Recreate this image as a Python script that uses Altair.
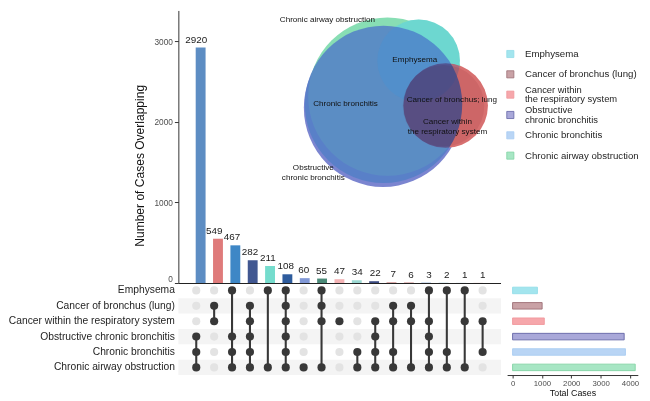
import altair as alt
import pandas as pd

# ---------------- data ----------------
set_names = [
    "Emphysema",
    "Cancer of bronchus (lung)",
    "Cancer within the respiratory system",
    "Obstructive chronic bronchitis",
    "Chronic bronchitis",
    "Chronic airway obstruction",
]
legend_labels = [
    "Emphysema",
    "Cancer of bronchus (lung)",
    "Cancer within\nthe respiratory system",
    "Obstructive\nchronic bronchitis",
    "Chronic bronchitis",
    "Chronic airway obstruction",
]
intersection_counts = [2920, 549, 467, 282, 211, 108, 60, 55, 47, 34, 22, 7, 6, 3, 2, 1, 1]
intersection_members = [
    [3, 4, 5], [1, 2], [0, 3, 4, 5], [1, 2, 3, 4, 5], [0, 5], [0, 1, 2, 3, 4, 5],
    [5], [0, 1, 2, 5], [2], [4, 5], [2, 3, 4, 5], [1, 2, 4, 5], [1, 2, 5],
    [0, 2, 3, 4, 5], [0, 4, 5], [0, 2, 5], [2, 4],
]
intersection_colors = [
    "#5d8dc3", "#df7b7b", "#3e87c6", "#415791", "#75dccd", "#2e5c9d", "#8198d6",
    "#4b8a78", "#f4b3b5", "#9ad7d1", "#3b4b82", "#c06a6a", "#c77c7c", "#4a7fc0",
    "#6ab0c8", "#7da3c5", "#d88e8e",
]
set_totals = [847, 1007, 1081, 3802, 3846, 4178]
set_fills = ["#a3e5ee", "#c9a2a6", "#f6a7ab", "#a9a8d9", "#b9d5f5", "#a7e6c4"]
set_strokes = ["#93dde8", "#9c6f75", "#f0979c", "#6364a6", "#a9ccf2", "#82d3a4"]

# Venn (eulerr-like) circles, in reference-picture units, drawn in this order
venn_names = [
    "Obstructive chronic bronchitis", "Chronic airway obstruction", "Emphysema",
    "Cancer within the respiratory system", "Chronic bronchitis", "Emphysema",
]
venn_cx = [384.5, 389.0, 421.0, 448.7, 385.0, 421.0]
venn_cy = [100.5, 89.0, 52.0, 98.3, 97.0, 52.0]
venn_r = [81.5, 81.5, 42.5, 43.5, 81.0, 42.5]
venn_fill = ["#7b85d0", "#88deb4", "#7ef0cf", "#ffb396", "#537fc7", "#3a8ad2"]
venn_opacity = [1.0, 1.0, 1.0, 1.0, 0.85, 0.25]
# circles blended by multiplication on top
cancer_names = ["Cancer within the respiratory system", "Cancer of bronchus (lung)"]
cancer_cx = [448.7, 446.5]
cancer_cy = [98.3, 98.5]
cancer_r = [43.5, 42.0]
cancer_fill = ["#d7a0be", "#f4e8ea"]

venn_label_text = [
    "Chronic airway obstruction", "Emphysema", "Chronic bronchitis",
    "Cancer of bronchus; lung", "Cancer within\nthe respiratory system",
    "Obstructive\nchronic bronchitis",
]
venn_label_x = [327.5, 417.0, 346.0, 455.0, 450.5, 313.0]
venn_label_y = [10.0, 51.0, 96.7, 92.7, 115.0, 163.3]

# ---------------- layout ----------------
W, H = 642, 393
KX, KY = W / 650.0, H / 401.0
K = (KX + KY) / 2


def fx(X):
    return X * KX


def fy(Y):
    return Y * KY


FONT = "Liberation Sans"

# ---------------- tables ----------------
bars_df = pd.DataFrame({
    "col": list(range(len(intersection_counts))),
    "count": intersection_counts,
    "color": intersection_colors,
    "label": [str(c) for c in intersection_counts],
})

dot_rows = []
rule_rows = []
for c, mem in enumerate(intersection_members):
    lo, hi = min(mem), max(mem)
    for r, name in enumerate(set_names):
        active = r in mem
        if not active and lo < r < hi:
            continue
        dot_rows.append({"col": c, "set": name, "dcolor": "#383838" if active else "#e3e3e3"})
    if lo != hi:
        rule_rows.append({"col": c, "top": set_names[lo], "bottom": set_names[hi]})
dots_df = pd.DataFrame(dot_rows)
rules_df = pd.DataFrame(rule_rows)

stripes_df = pd.DataFrame({"set": [set_names[i] for i in (1, 3, 5)]})

totals_df = pd.DataFrame({
    "set": set_names, "total": set_totals, "fill": set_fills, "stroke": set_strokes,
    "legend": legend_labels,
    "lines": [lab.count("\n") + 1 for lab in legend_labels],
})

venn_df = pd.DataFrame({
    "name": venn_names, "cx": venn_cx, "cy": venn_cy, "r": venn_r,
    "fill": venn_fill, "op": venn_opacity, "order": list(range(len(venn_names))),
})
cancer_df = pd.DataFrame({
    "name": cancer_names, "cx": cancer_cx, "cy": cancer_cy, "r": cancer_r, "fill": cancer_fill,
})
venn_lab_df = pd.DataFrame({"text": venn_label_text, "x": venn_label_x, "y": venn_label_y})


# ---------------- scales ----------------
def xs_col():
    return alt.Scale(domain=[-1, 17], range=[fx(174.65), fx(504.95)], nice=False, zero=False)


def ys_count():
    return alt.Scale(domain=[0, 3380], range=[fy(281.6), 0], nice=False, zero=True)


def ys_row_band():
    return alt.Scale(type="band", domain=set_names, range=[fy(281.35), fy(376.75)],
                     paddingInner=0, paddingOuter=0)


def ys_row_point():
    return alt.Scale(type="point", domain=set_names, range=[fy(289.3), fy(368.8)], padding=0)


def ys_legend():
    return alt.Scale(type="point", domain=set_names, range=[fy(45), fy(150)], padding=0)


def xs_venn():
    return alt.Scale(domain=[0, 650], range=[0, W], nice=False, zero=False)


def ys_venn():
    return alt.Scale(domain=[0, 401], range=[0, H], nice=False, zero=False)


def size_venn():
    return alt.Scale(type="pow", exponent=2, domain=[0, 100], range=[0, (200 * K) ** 2])


# ---------------- layers ----------------
stripes = alt.Chart(stripes_df).mark_rect(color="#f4f4f4").encode(
    x=alt.value(fx(174.65)),
    x2=alt.value(fx(505.5)),
    y=alt.Y("set:N", scale=ys_row_band(),
            axis=alt.Axis(orient="left", offset=-fx(174.65), domain=False, ticks=False,
                          labelPadding=4, labelFontSize=10.4, labelColor="#1e1e1e",
                          labelLimit=400, title=None, grid=False, labelFont=FONT)),
)

venn_circles = alt.Chart(venn_df).mark_circle().encode(
    x=alt.X("cx:Q", scale=xs_venn(), axis=None),
    y=alt.Y("cy:Q", scale=ys_venn(), axis=None),
    size=alt.Size("r:Q", scale=size_venn(), legend=None),
    color=alt.Color("fill:N", scale=None),
    opacity=alt.Opacity("op:Q", scale=None),
    order=alt.Order("order:Q"),
)

cancer_circles = alt.Chart(cancer_df).mark_circle(opacity=1, blend="multiply").encode(
    x=alt.X("cx:Q", scale=xs_venn(), axis=None),
    y=alt.Y("cy:Q", scale=ys_venn(), axis=None),
    size=alt.Size("r:Q", scale=size_venn(), legend=None),
    color=alt.Color("fill:N", scale=None),
)

venn_labels = alt.Chart(venn_lab_df).mark_text(
    fontSize=8.2, color="#111111", lineBreak="\n", lineHeight=10, font=FONT
).encode(
    x=alt.X("x:Q", scale=xs_venn(), axis=None),
    y=alt.Y("y:Q", scale=ys_venn(), axis=None),
    text="text:N",
)

bars = alt.Chart(bars_df).mark_bar(size=10, orient="vertical").encode(
    x=alt.X("col:Q", scale=xs_col(),
            axis=alt.Axis(orient="bottom", offset=fy(281.6) - H, labels=False, ticks=False,
                          grid=False, title=None, domainColor="#222222", domainWidth=1.1)),
    y=alt.Y("count:Q", scale=ys_count(),
            axis=alt.Axis(orient="left", offset=-fx(174.65), values=[0, 1000, 2000, 3000],
                          format="d", grid=False, tickSize=4, tickColor="#333333",
                          domainColor="#333333", labelFontSize=8.4, labelColor="#4d4d4d",
                          labelPadding=2, labelFont=FONT, labelFlush=True,
                          title="Number of Cases Overlapping", titleFontSize=12.2,
                          titleFontWeight="normal", titleColor="#111111", titleFont=FONT,
                          titleX=fx(135) - fx(174.65), titleY=fy(160), titleAngle=270,
                          titleBaseline="middle", titleAlign="center")),
    color=alt.Color("color:N", scale=None),
)

bar_labels = alt.Chart(bars_df).mark_text(
    baseline="bottom", dy=-3, fontSize=10, color="#1a1a1a", font=FONT
).encode(
    x=alt.X("col:Q", scale=xs_col(), axis=None),
    y=alt.Y("count:Q", scale=ys_count(), axis=None),
    text="label:N",
)

rules = alt.Chart(rules_df).mark_rule(strokeWidth=2.1, color="#383838").encode(
    x=alt.X("col:Q", scale=xs_col(), axis=None),
    y=alt.Y("top:N", scale=ys_row_point(), axis=None),
    y2="bottom:N",
)

dots = alt.Chart(dots_df).mark_circle(size=68, opacity=1).encode(
    x=alt.X("col:Q", scale=xs_col(), axis=None),
    y=alt.Y("set:N", scale=ys_row_point(), axis=None),
    color=alt.Color("dcolor:N", scale=None),
)

totals = alt.Chart(totals_df).mark_bar(size=6.6, orient="horizontal", strokeWidth=0.9).encode(
    x=alt.X("total:Q",
            scale=alt.Scale(domain=[-186, 4266], range=[fx(511.7), fx(645.7)], nice=False, zero=False),
            axis=alt.Axis(orient="bottom", offset=fy(376.7) - H, values=[0, 1000, 2000, 3000, 4000],
                          format="d", grid=False, tickSize=3, tickColor="#333333",
                          domainColor="#333333", labelFontSize=7.9, labelColor="#4d4d4d",
                          labelPadding=2, labelFont=FONT, title="Total Cases", titleFontSize=9,
                          titleFontWeight="normal", titleColor="#111111", titlePadding=1,
                          titleFont=FONT)),
    y=alt.Y("set:N", scale=ys_row_point(), axis=None),
    fill=alt.Fill("fill:N", scale=None),
    stroke=alt.Stroke("stroke:N", scale=None),
)

legend_sw = alt.Chart(totals_df).mark_square(size=52, filled=True, strokeWidth=0.8, opacity=1).encode(
    x=alt.value(fx(515)),
    y=alt.Y("set:N", scale=ys_legend(), axis=None),
    fill=alt.Fill("fill:N", scale=None),
    stroke=alt.Stroke("stroke:N", scale=None),
)

legend_tx1 = alt.Chart(totals_df).transform_filter("datum.lines == 1").mark_text(
    align="left", baseline="middle", fontSize=9.8, color="#1e1e1e", font=FONT
).encode(
    x=alt.value(fx(530)),
    y=alt.Y("set:N", scale=ys_legend(), axis=None),
    text="legend:N",
)

legend_tx2 = alt.Chart(totals_df).transform_filter("datum.lines == 2").mark_text(
    align="left", baseline="middle", fontSize=9.5, lineBreak="\n", lineHeight=9.6,
    dy=-4.8, color="#1e1e1e", font=FONT
).encode(
    x=alt.value(fx(530)),
    y=alt.Y("set:N", scale=ys_legend(), axis=None),
    text="legend:N",
)

chart = alt.layer(
    stripes, venn_circles, cancer_circles, venn_labels, bars, bar_labels,
    rules, dots, totals, legend_sw, legend_tx1, legend_tx2,
).resolve_scale(
    x="independent", y="independent", color="independent", size="independent",
    fill="independent", stroke="independent", opacity="independent",
).resolve_axis(
    x="independent", y="independent",
).properties(
    width=W, height=H, autosize=alt.AutoSizeParams(type="none"), padding=0,
).configure(font=FONT).configure_view(stroke=None)

chart.save("out.html", embed_options={"renderer": "svg", "actions": False})
